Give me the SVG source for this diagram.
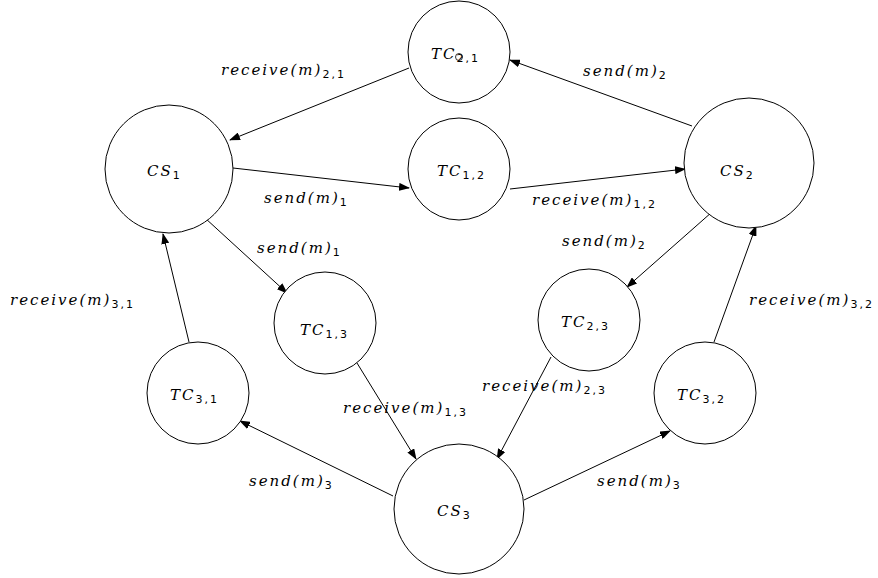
<svg xmlns="http://www.w3.org/2000/svg" width="878" height="578" viewBox="0 0 878 578">
<style>
.n{fill:#fff;stroke:#000;stroke-width:1}
.e{stroke:#000;stroke-width:1;fill:none;marker-end:url(#ah)}
text{font-family:"DejaVu Serif","Liberation Serif",serif;font-style:italic;font-size:15px;letter-spacing:2px;fill:#000}
.s{font-family:"DejaVu Sans","Liberation Sans",sans-serif;font-size:11px;font-style:normal;letter-spacing:2px}
</style>
<defs>
<marker id="ah" markerWidth="11" markerHeight="8" refX="10" refY="4" orient="auto" markerUnits="userSpaceOnUse">
<path d="M0,0 L11,4 L0,8 z" fill="#000"/>
</marker>
</defs>
<rect width="878" height="578" fill="#fff"/>
<g id="connectors">
<line class="e" x1="409" y1="68" x2="230" y2="140"/>
<line class="e" x1="233" y1="168" x2="409" y2="188"/>
<line class="e" x1="692" y1="126" x2="510" y2="60"/>
<line class="e" x1="510" y1="189" x2="685" y2="169"/>
<line class="e" x1="205" y1="218" x2="287" y2="293"/>
<line class="e" x1="712" y1="212" x2="627" y2="287"/>
<line class="e" x1="189" y1="342" x2="163" y2="234"/>
<line class="e" x1="714" y1="342" x2="756" y2="226"/>
<line class="e" x1="357" y1="363" x2="416" y2="459"/>
<line class="e" x1="551" y1="357" x2="497" y2="459"/>
<line class="e" x1="393" y1="496" x2="240" y2="421"/>
<line class="e" x1="524" y1="500" x2="670" y2="431"/>
<text x="221" y="75">receive(m)<tspan class="s" dy="3">2,1</tspan></text>
<text x="583" y="76">send(m)<tspan class="s" dy="3">2</tspan></text>
<text x="264" y="203">send(m)<tspan class="s" dy="3">1</tspan></text>
<text x="532" y="205">receive(m)<tspan class="s" dy="3">1,2</tspan></text>
<text x="257" y="253">send(m)<tspan class="s" dy="3">1</tspan></text>
<text x="562" y="246">send(m)<tspan class="s" dy="3">2</tspan></text>
<text x="10" y="305">receive(m)<tspan class="s" dy="3">3,1</tspan></text>
<text x="749" y="305">receive(m)<tspan class="s" dy="3">3,2</tspan></text>
<text x="482" y="391">receive(m)<tspan class="s" dy="3">2,3</tspan></text>
<text x="343" y="413">receive(m)<tspan class="s" dy="3">1,3</tspan></text>
<text x="249" y="486">send(m)<tspan class="s" dy="3">3</tspan></text>
<text x="597" y="486">send(m)<tspan class="s" dy="3">3</tspan></text>
</g>
<g id="TC21"><circle class="n" cx="459" cy="52" r="51"/><text x="431" y="59">TC<tspan class="s" dy="3">2,1</tspan></text><circle cx="459" cy="57" r="3.5" fill="none" stroke="#000" stroke-width="0.8"/></g>
<g id="CS1"><circle class="n" cx="169" cy="169" r="64"/><text x="147" y="176">CS<tspan class="s" dy="3">1</tspan></text></g>
<g id="TC12"><circle class="n" cx="459" cy="169" r="51"/><text x="437" y="176">TC<tspan class="s" dy="3">1,2</tspan></text></g>
<g id="CS2"><circle class="n" cx="749" cy="163" r="65"/><text x="720" y="176">CS<tspan class="s" dy="3">2</tspan></text></g>
<g id="TC13"><circle class="n" cx="325" cy="323" r="51"/><text x="300" y="335">TC<tspan class="s" dy="3">1,3</tspan></text></g>
<g id="TC23"><circle class="n" cx="589" cy="320" r="51"/><text x="561" y="327">TC<tspan class="s" dy="3">2,3</tspan></text></g>
<g id="TC31"><circle class="n" cx="198" cy="393" r="51"/><text x="170" y="400">TC<tspan class="s" dy="3">3,1</tspan></text></g>
<g id="TC32"><circle class="n" cx="705" cy="393" r="51" stroke-width="1.6"/><text x="677" y="400">TC<tspan class="s" dy="3">3,2</tspan></text></g>
<g id="CS3"><circle class="n" cx="459" cy="509" r="65"/><text x="437" y="516">CS<tspan class="s" dy="3">3</tspan></text></g>
</svg>
